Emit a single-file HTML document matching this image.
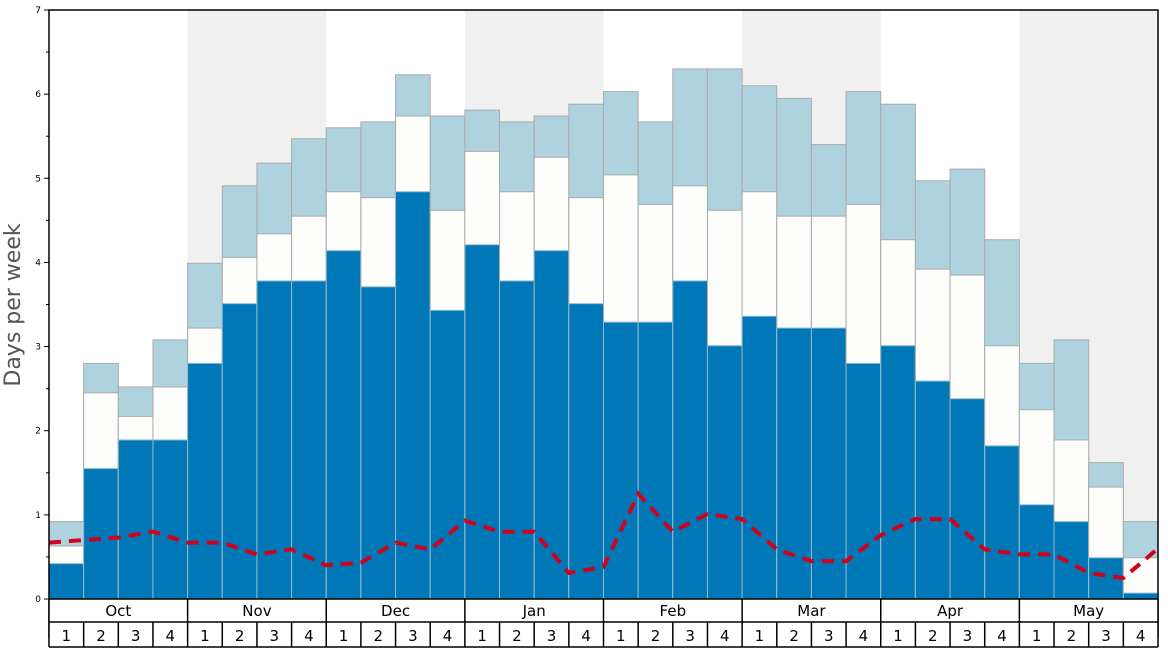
<!DOCTYPE html>
<html><head><meta charset="utf-8"><style>
html,body{margin:0;padding:0;background:#fff;}
svg{display:block;font-family:"DejaVu Sans","Liberation Sans",sans-serif;}
</style></head><body>
<svg id="chart" width="1168" height="648" viewBox="0 0 1168 648"></svg>
<script>
const months = ["Oct","Nov","Dec","Jan","Feb","Mar","Apr","May"];
const weeks = ["1","2","3","4"];
const blueVals = [0.42,1.55,1.89,1.89,2.80,3.51,3.78,3.78,4.14,3.71,4.84,3.43,4.21,3.78,4.14,3.51,3.29,3.29,3.78,3.01,3.36,3.22,3.22,2.80,3.01,2.59,2.38,1.82,1.12,0.92,0.49,0.07];
const whiteVals = [0.63,2.45,2.17,2.52,3.22,4.06,4.34,4.55,4.84,4.77,5.74,4.62,5.32,4.84,5.25,4.77,5.04,4.69,4.91,4.62,4.84,4.55,4.55,4.69,4.27,3.92,3.85,3.01,2.25,1.89,1.33,0.49];
const lightVals = [0.92,2.80,2.52,3.08,3.99,4.91,5.18,5.47,5.60,5.67,6.23,5.74,5.81,5.67,5.74,5.88,6.03,5.67,6.30,6.30,6.10,5.95,5.40,6.03,5.88,4.97,5.11,4.27,2.80,3.08,1.62,0.92];
const lineVals = [0.67,0.70,0.73,0.80,0.67,0.67,0.53,0.59,0.40,0.43,0.67,0.59,0.93,0.80,0.80,0.31,0.38,1.25,0.80,1.01,0.95,0.59,0.45,0.45,0.76,0.95,0.95,0.59,0.53,0.53,0.31,0.25,0.60];
const yTicks = [0,1,2,3,4,5,6,7];

const svg = document.getElementById('chart');
const NS = 'http://www.w3.org/2000/svg';
const X0 = 49, X1 = 1158, Y0 = 599, Y1 = 10, YMAX = 7;
const n = blueVals.length;
const bw = (X1 - X0) / n;
const xs = i => X0 + i * bw;
const ys = v => Y0 - v / YMAX * (Y0 - Y1);
function mk(tag, attrs, parent) {
  const e = document.createElementNS(NS, tag);
  for (const k in attrs) e.setAttribute(k, attrs[k]);
  (parent || svg).appendChild(e);
  return e;
}

// shaded month bands
months.forEach((m, mi) => {
  if (mi % 2 === 1) {
    const r = mk('rect', {x: xs(mi*4), y: Y1, width: bw*4, height: Y0 - Y1, fill: '#f0f0f0'});
    
    
  }
});

// bars
for (let i = 0; i < n; i++) {
  const g = mk('g', {});
  
  
  const layers = [[lightVals[i], '#aed3df'], [whiteVals[i], '#fdfdfb'], [blueVals[i], '#0077b6']];
  layers.forEach(([v, c]) => {
    const r = mk('rect', {x: xs(i), y: ys(v), width: bw, height: Y0 - ys(v), fill: c, stroke: c === '#0077b6' ? '#8fb8cf' : '#aaaaaa', 'stroke-width': 1}, g);
    
    
  });
}

// red dashed line
const pts = lineVals.map((v, i) => xs(i).toFixed(1) + ',' + ys(v).toFixed(1)).join(' ');
const pl = mk('polyline', {points: pts, fill: 'none', stroke: '#d0021b', 'stroke-width': 4, 'stroke-dasharray': '12,8'});



// plot border
const bd = mk('rect', {x: X0, y: Y1, width: X1 - X0, height: 637 - Y1, fill: 'none', stroke: '#000', 'stroke-width': 1.5});



// y ticks
yTicks.forEach(t => {
  const y = ys(t);
  const ln = mk('line', {x1: X0 - 5, x2: X0, y1: y, y2: y, stroke: '#000'});
  
  
  const tx = mk('text', {x: X0 - 8, y: y + 3, 'font-size': 9, 'text-anchor': 'end', fill: '#000'});
  tx.textContent = t;
  
  
  if (t < YMAX) {
    const mn = mk('line', {x1: X0 - 3, x2: X0, y1: ys(t + 0.5), y2: ys(t + 0.5), stroke: '#000'});
    
    
  }
});
const yt = mk('text', {x: 20, y: 305, 'font-size': 22, 'text-anchor': 'middle', fill: '#555', transform: 'rotate(-90 20 305)'});
yt.textContent = 'Days per week';



// bottom axis rows
const bl = mk('rect', {x: X0, y: Y0, width: X1 - X0, height: 48, fill: '#fff', stroke: 'none'});


[Y0, 622, 647].forEach(y => {
  const l = mk('line', {x1: X0, x2: X1, y1: y, y2: y, stroke: '#000', 'stroke-width': 1.5});
  
  
});
for (let i = 0; i <= n; i++) {
  const top = (i % 4 === 0) ? Y0 : 622;
  const l = mk('line', {x1: xs(i), x2: xs(i), y1: top, y2: 647, stroke: '#000', 'stroke-width': 1.5});
  
  
}
months.forEach((m, mi) => {
  const t = mk('text', {x: xs(mi*4 + 2), y: 616, 'font-size': 15, 'text-anchor': 'middle', fill: '#000'});
  t.textContent = m;
  
  
  weeks.forEach((w, wi) => {
    const tw = mk('text', {x: xs(mi*4 + wi + 0.5), y: 641, 'font-size': 15, 'text-anchor': 'middle', fill: '#000'});
    tw.textContent = w;
    
    
  });
});
</script>
</body></html>
